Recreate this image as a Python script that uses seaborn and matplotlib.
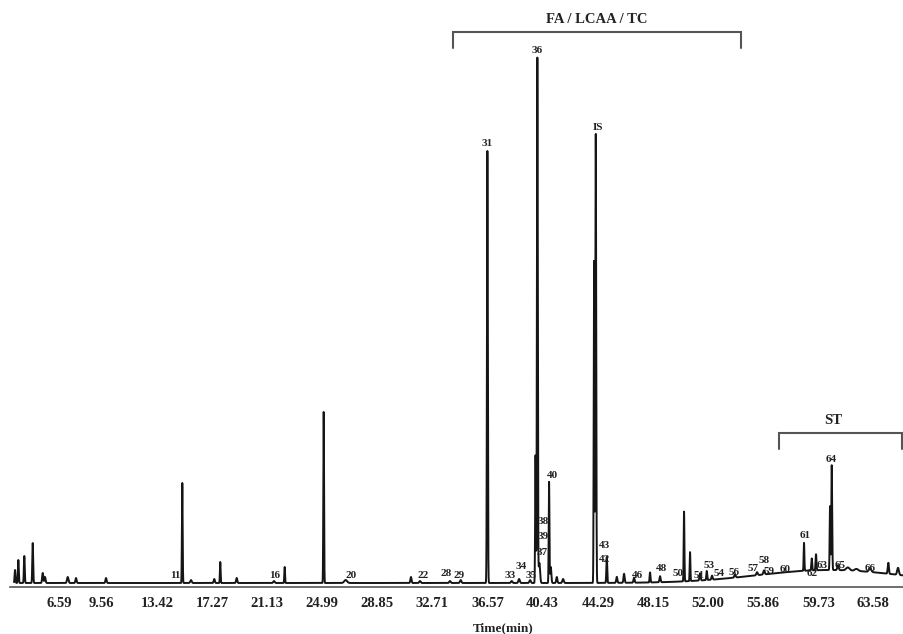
import numpy as np
import pandas as pd
import matplotlib
matplotlib.use("Agg")
import matplotlib.pyplot as plt
import seaborn as sns

# ---- data ----
# peak retention times (min), heights (arbitrary units) and widths (sigma, min)
peak_times = [3.49, 3.72, 4.14, 4.73, 5.43, 5.59, 7.18, 7.76, 9.86,
              15.20, 15.81, 17.44, 17.86, 19.01, 21.62, 22.37, 25.10, 26.64,
              31.21, 31.84, 33.94, 34.69, 36.56, 38.26, 38.78, 39.55,
              39.93, 40.06, 40.20, 40.88, 41.00, 41.42, 41.86,
              44.03, 44.15, 44.92, 45.62, 46.13, 46.83, 47.95, 48.65,
              50.33, 50.75, 51.45, 51.92, 52.29, 53.90, 55.44, 55.93,
              58.73, 59.27, 59.57, 60.55, 60.67, 61.11, 61.80, 62.40,
              63.35, 64.63, 65.31, 60.50]
peak_heights = [13, 23, 27, 40, 10, 6, 6, 5, 5,
                100, 3, 4, 21, 5, 2, 16, 171, 3,
                6, 2, 2, 3, 432, 2, 4, 3,
                128, 525, 20, 101, 16, 6, 4,
                323, 450, 26, 6, 9, 5, 10, 6,
                70, 29, 7, 9, 4, 3, 3, 4,
                28, 12, 16, 64, 105, 5, 3, 2,
                4, 11, 7, 13]
peak_widths = [0.03, 0.03, 0.03, 0.03, 0.04, 0.04, 0.05, 0.04, 0.04,
               0.025, 0.05, 0.04, 0.025, 0.04, 0.05, 0.025, 0.025, 0.10,
               0.04, 0.05, 0.05, 0.05, 0.03, 0.05, 0.05, 0.05,
               0.025, 0.03, 0.05, 0.025, 0.04, 0.04, 0.05,
               0.025, 0.03, 0.03, 0.04, 0.04, 0.04, 0.03, 0.04,
               0.025, 0.025, 0.04, 0.03, 0.04, 0.05, 0.05, 0.05,
               0.025, 0.03, 0.03, 0.025, 0.03, 0.05, 0.12, 0.12,
               0.08, 0.04, 0.06, 5.0]

# peak labels: text, time, height of label centre
label_texts = ["11", "16", "20", "22", "28", "29", "31", "33", "34", "35", "36",
               "37", "38", "39", "40", "IS", "43", "42", "46", "48", "50", "51",
               "53", "54", "56", "57", "58", "59", "60", "61", "62", "63", "64",
               "65", "66"]
label_times = [14.74, 21.69, 26.99, 32.07, 33.66, 34.59, 36.56, 38.14, 38.96, 39.59,
               40.06, 40.41, 40.48, 40.48, 41.13, 44.33, 44.73, 44.73, 47.06, 48.77,
               49.93, 51.38, 52.10, 52.80, 53.83, 55.14, 55.95, 56.30, 57.40, 58.80,
               59.27, 59.97, 60.62, 61.25, 63.35]
label_heights = [7.3, 7.3, 8, 7.3, 9.7, 7.5, 439.7, 8, 16.3, 8, 532.3,
                 30.7, 61.3, 46.3, 108, 455.3, 38, 23.7, 8, 14.7,
                 9.7, 8, 18, 9.7, 10.3, 14.7, 22.3, 11.3, 13.7, 47,
                 9.7, 18, 123, 18, 14.7]

# compound-class brackets: name, start time, end time
group_names = ["FA / LCAA / TC", "ST"]
group_starts = [34.13, 56.98]
group_ends = [54.30, 65.61]
group_levels = [550.7, 149.7]

tick_labels = ["6.59", "9.56", "13.42", "17.27", "21.13", "24.99", "28.85", "32.71",
               "36.57", "40.43", "44.29", "48.15", "52.00", "55.86", "59.73", "63.58"]

# ---- build the trace from the peaks ----
t = np.arange(3.42, 65.73, 0.004)
signal = np.zeros_like(t)
for c, h, w in zip(peak_times, peak_heights, peak_widths):
    signal += h * np.exp(-0.5 * ((t - c) / w) ** 2)
df = pd.DataFrame({"Time(min)": t, "Intensity": signal})

sns.set_style("white")
plt.rcParams["font.family"] = ["Liberation Serif", "DejaVu Serif"]

fig = plt.figure(figsize=(9.04, 6.34), dpi=100)
ax = fig.add_axes([10 / 904, 1 - 587 / 634, 894 / 904, 587 / 634])

sns.lineplot(data=df, x="Time(min)", y="Intensity", ax=ax, color="#151515",
             linewidth=1.4, estimator=None, sort=False)

ax.set_xlim(3.138, 65.73)
ax.set_ylim(-4, 583)
for s in ["left", "top", "right"]:
    ax.spines[s].set_visible(False)
ax.spines["bottom"].set_linewidth(1.2)
ax.spines["bottom"].set_color("#555555")
ax.set_yticks([])
ax.set_xticks([float(v) for v in tick_labels])
ax.set_xticklabels(tick_labels, fontsize=10.5, fontweight="bold")
ax.tick_params(axis="x", direction="out", length=5, width=1, color="#555555",
               pad=2, labelcolor="#222222")
ax.set_xlabel("")
ax.set_ylabel("")

for txt, xt, yt in zip(label_texts, label_times, label_heights):
    ax.text(xt, yt, txt, ha="center", va="center", fontsize=8, fontweight="bold",
            color="#222222")

for name, a, b, lev in zip(group_names, group_starts, group_ends, group_levels):
    ax.plot([a, a, b, b], [lev - 16, lev, lev, lev - 16], color="#555555",
            linewidth=1.5, solid_joinstyle="miter")
    ax.text((a + b) / 2 if name != "ST" else 60.78, lev + 13, name, ha="center",
            va="center", fontsize=10.5, fontweight="bold", color="#222222")

fig.text(503 / 904, 1 - 628 / 634, "Time(min)", ha="center", va="center",
         fontsize=9.5, fontweight="bold", color="#222222")

fig.savefig("out.png", dpi=100)
